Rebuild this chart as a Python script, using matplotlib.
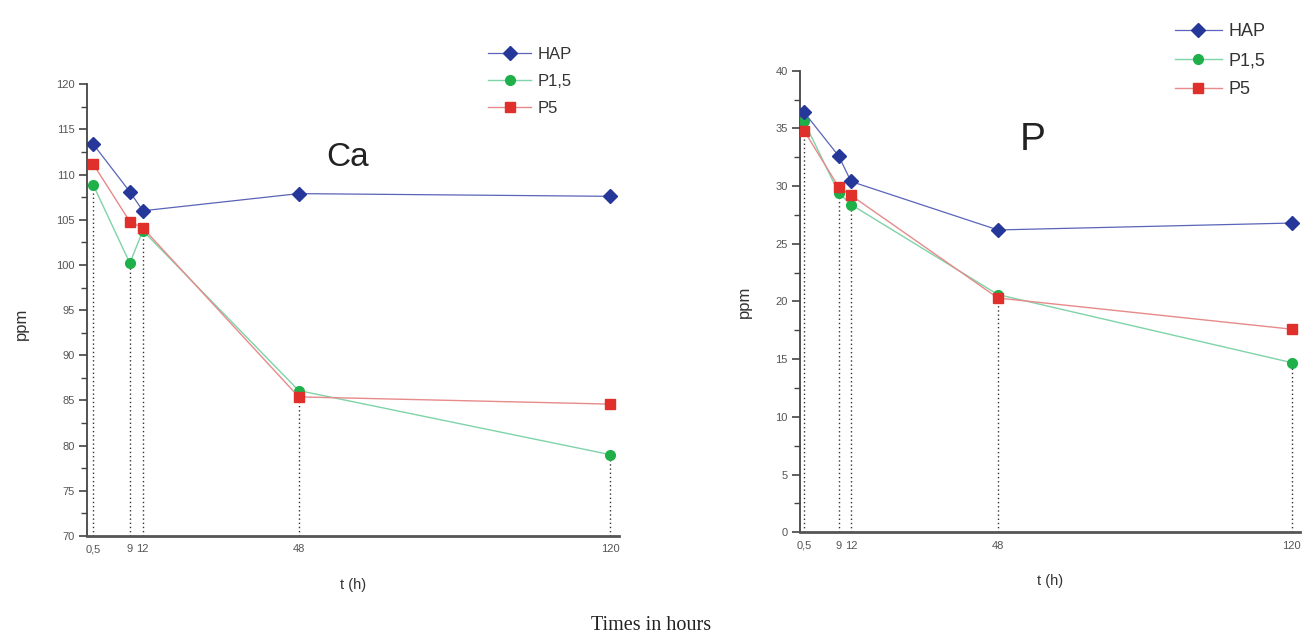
import matplotlib
matplotlib.use("Agg")
import matplotlib.pyplot as plt
from matplotlib.ticker import MultipleLocator

plt.rcParams['font.family'] = ['Liberation Sans', 'DejaVu Sans']

times = [0.5, 9, 12, 48, 120]
time_labels = ['0,5', '9', '12', '48', '120']
series_names = ['HAP', 'P1,5', 'P5']

ca_hap = [113.4, 108.1, 106.0, 107.9, 107.6]
ca_p15 = [108.9, 100.2, 103.8, 86.1, 79.0]
ca_p5 = [111.2, 104.8, 104.1, 85.4, 84.6]

p_hap = [36.4, 32.6, 30.4, 26.2, 26.8]
p_p15 = [35.6, 29.4, 28.4, 20.6, 14.7]
p_p5 = [34.8, 29.9, 29.2, 20.3, 17.6]

W, H = 1303, 642
fig = plt.figure(figsize=(W / 100, H / 100), dpi=100)

styles = {
    'HAP': dict(color='#5a64b8', marker='D', mfc='#26379a', mec='#26379a', ms=7.5, lw=0.9, zorder=5),
    'P1,5': dict(color='#7fd3a8', marker='o', mfc='#1fb04a', mec='#1fb04a', ms=7, lw=1.0, zorder=3),
    'P5': dict(color='#e68a8a', marker='s', mfc='#e0302c', mec='#e0302c', ms=6.5, lw=1.0, zorder=4),
}


def make_panel(rect, data, ylim, title, title_xy, title_size, leg_anchor, leg_size, leg_spacing):
    ax = fig.add_axes(rect)
    vals = dict(zip(series_names, data))
    for name in ['P1,5', 'P5', 'HAP']:
        ax.plot(times, vals[name], label=name, **styles[name])
    # dotted drop lines from lowest point at each time
    for i, t in enumerate(times):
        low = min(v[i] for v in data)
        ax.plot([t, t], [ylim[0], low], ls=(0, (1, 2)), color='#333333', lw=1.0, zorder=1)
    ax.set_ylim(*ylim)
    ax.set_xlim(-0.9, 122)
    ax.set_xticks(times)
    ax.set_xticklabels(time_labels)
    ax.yaxis.set_major_locator(MultipleLocator(5))
    ax.yaxis.set_minor_locator(MultipleLocator(2.5))
    ax.tick_params(axis='x', length=0, pad=6, labelsize=8, labelcolor='#555555')
    ax.tick_params(axis='y', which='major', length=6, width=1.2, color='#444444', labelsize=8, labelcolor='#555555', pad=3)
    ax.tick_params(axis='y', which='minor', length=4, width=1.0, color='#444444')
    for s in ['top', 'right']:
        ax.spines[s].set_visible(False)
    ax.spines['left'].set_linewidth(1.3)
    ax.spines['left'].set_color('#444444')
    ax.spines['bottom'].set_linewidth(2.0)
    ax.spines['bottom'].set_color('#555555')
    ax.set_ylabel('ppm', fontsize=12, color='#333333')
    ax.set_xlabel('t (h)', fontsize=10.5, color='#333333')
    ax.text(title_xy[0], title_xy[1], title, transform=fig.transFigure, fontsize=title_size,
            ha='center', va='center', color='#222222')
    hs, ls = ax.get_legend_handles_labels()
    order = [ls.index(n) for n in series_names]
    ax.legend([hs[i] for i in order], [ls[i] for i in order], loc='upper left',
              bbox_to_anchor=leg_anchor, bbox_transform=fig.transFigure, frameon=False,
              fontsize=leg_size, handlelength=2.6, handletextpad=0.35, labelspacing=leg_spacing,
              borderpad=0, borderaxespad=0, labelcolor='#333333')
    return ax


axL = make_panel([87 / W, 1 - 536 / H, 532 / W, (536 - 84.3) / H],
                 [ca_hap, ca_p15, ca_p5], (70, 120), 'Ca', (348 / W, 1 - 158 / H), 24,
                 (488 / W, 1 - 47 / H), 12, 0.72)
axL.yaxis.set_label_coords(-0.11, 0.47)
axL.xaxis.set_label_coords(0.5, -0.094)

axR = make_panel([800 / W, 1 - 532.3 / H, 500 / W, (532.3 - 70.7) / H],
                 [p_hap, p_p15, p_p5], (0, 40), 'P', (1033 / W, 1 - 140 / H), 28,
                 (1175 / W, 1 - 23 / H), 13, 0.67)
axR.set_xlim(-0.5, 122)
axR.yaxis.set_label_coords(-0.096, 0.5)
axR.xaxis.set_label_coords(0.5, -0.091)

fig.text(651 / W, 1 - 626 / H, 'Times in hours', family=['Liberation Serif', 'DejaVu Serif'],
         fontsize=14.5, ha='center', va='center', color='#222222')

fig.savefig('out.png', dpi=100, facecolor='white')
